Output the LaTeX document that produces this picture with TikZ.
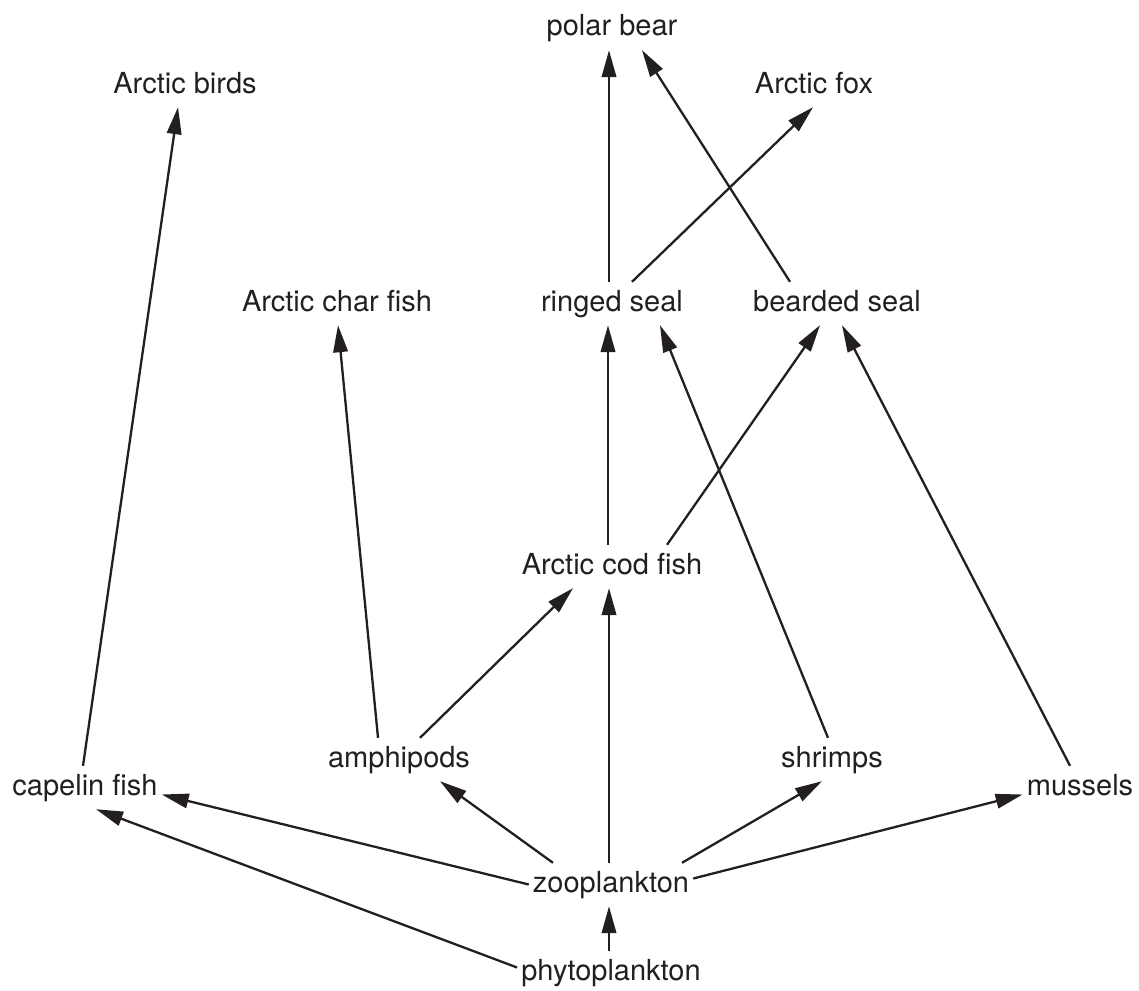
\documentclass[tikz,border=0pt]{standalone}
\usepackage{fontspec}
\setmainfont{TeX Gyre Heros}
\usetikzlibrary{arrows.meta}
\definecolor{ink}{HTML}{231F20}

\begin{document}
\begin{tikzpicture}[x=1pt,y=-1pt,
   species/.style={anchor=base,text=ink,font=\fontsize{29}{34}\selectfont,
      text height=22pt,text depth=7pt,inner xsep=4pt,inner ysep=7pt},
   feeds/.style={draw=ink,line width=2.3pt,-{Triangle[length=27pt,width=14.5pt]}}]
   \useasboundingbox (0,0) rectangle (1139,990);
   % top of the web
   \node[species] (pb)   at ( 612, 36) {polar bear};
   \node[species] (ab)   at ( 185, 93) {Arctic birds};
   \node[species] (af)   at ( 814, 93) {Arctic fox};
   \node[species] (char) at ( 337,311) {Arctic char fish};
   \node[species] (rs)   at ( 612,311) {ringed seal};
   \node[species] (bs)   at ( 837,311) {bearded seal};
   \node[species] (cod)  at ( 612,574) {Arctic cod fish};
   % bottom of the web
   \node[species] (cap)  at (  85,795) {capelin fish};
   \node[species] (amph) at ( 399,767) {amphipods};
   \node[species] (shr)  at ( 832,767) {shrimps};
   \node[species] (mus)  at (1080,795) {mussels};
   \node[species] (zoo)  at ( 611,892) {zooplankton};
   \node[species] (phy)  at ( 611,980) {phytoplankton};

   \draw[feeds] ([xshift=-3pt]rs.north)   -- ([xshift=-3pt]pb.south);
   \draw[feeds] ([xshift=-47pt]bs.north)  -- ([xshift=30pt]pb.south);
   \draw[feeds] ([xshift=20pt]rs.north)   -- ([xshift=-1pt]af.south);
   \draw[feeds] ([xshift=-2pt]cap.north)  -- ([xshift=-7pt]ab.south);
   \draw[feeds] ([xshift=-21pt]amph.north) -- ([xshift=1pt]char.south);
   \draw[feeds] ([xshift=-4pt]cod.north)  -- ([xshift=-4pt]rs.south);
   \draw[feeds] ([xshift=55pt]cod.north)  -- ([xshift=-17pt]bs.south);
   \draw[feeds] ([xshift=-4pt]shr.north)  -- ([xshift=48pt]rs.south);
   \draw[feeds] ([xshift=-10pt]mus.north) -- ([xshift=5pt]bs.south);
   \draw[feeds] ([xshift=21pt]amph.north) -- ([xshift=-39pt]cod.south);
   \draw[feeds] ([xshift=-2pt]zoo.north)  -- ([xshift=-3pt]cod.south);
   \draw[feeds] (zoo.west)                -- ([yshift=-7pt]cap.east);
   \draw[feeds] ([xshift=-58pt]zoo.north) -- ([xshift=41pt]amph.south);
   \draw[feeds] ([xshift=71pt]zoo.north)  -- ([xshift=-10pt]shr.south);
   \draw[feeds] ([yshift=6pt]zoo.east)    -- ([yshift=-7pt]mus.west);
   \draw[feeds] ([xshift=-2pt]phy.north)  -- ([xshift=-2pt]zoo.south);
   \draw[feeds] ([yshift=5pt]phy.west)    -- ([xshift=11pt]cap.south);
\end{tikzpicture}
\end{document}
